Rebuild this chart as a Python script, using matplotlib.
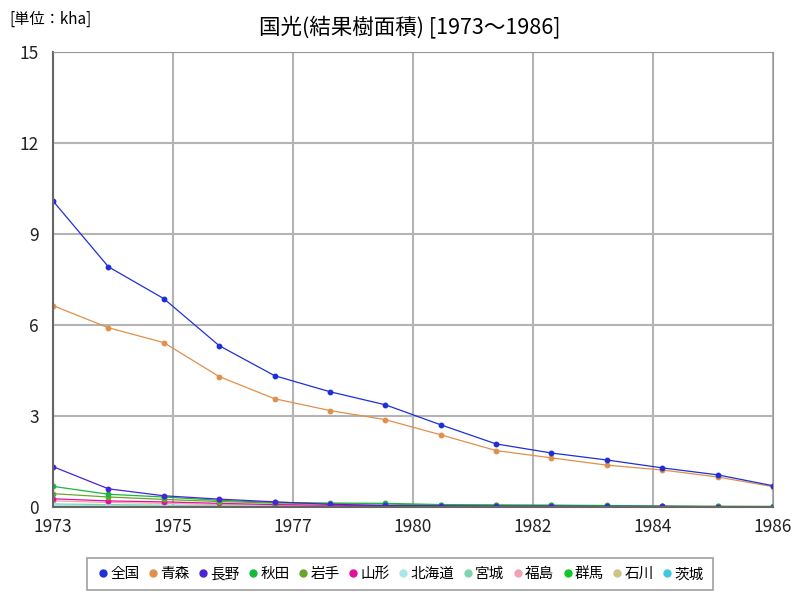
import matplotlib

matplotlib.use("Agg")
import matplotlib.pyplot as plt
import numpy as np
from matplotlib.lines import Line2D

plt.rcParams["font.family"] = ["Noto Sans CJK JP", "DejaVu Sans"]

years = list(range(1973, 1987))

# 結果樹面積 (kha)
zenkoku = [10.09, 7.92, 6.87, 5.32, 4.33, 3.80, 3.37, 2.71, 2.08, 1.78, 1.55, 1.29, 1.06, 0.70]
aomori = [6.64, 5.91, 5.42, 4.30, 3.57, 3.18, 2.88, 2.38, 1.86, 1.62, 1.38, 1.22, 0.99, 0.67]
nagano = [1.33, 0.60, 0.37, 0.26, 0.17, 0.09, 0.05, 0.04, 0.03, 0.03, 0.02, 0.02, 0.01, 0.01]
akita = [0.68, 0.42, 0.33, 0.22, 0.15, 0.13, 0.12, 0.08, 0.07, 0.06, 0.05, 0.03, 0.02, 0.02]
iwate = [0.44, 0.33, 0.25, 0.18, 0.13, 0.11, 0.10, 0.06, 0.05, 0.05, 0.04, 0.02, 0.02, 0.01]
yamagata = [0.27, 0.20, 0.17, 0.12, 0.08, 0.06, 0.04, 0.03, 0.02, 0.02, 0.01, 0.01, 0.01, 0.01]
hokkaido = [0.05, 0.04, 0.03, 0.02, 0.02, 0.01, 0.01, 0.01, 0.01, 0.01, 0.01, 0.00, 0.00, 0.00]
miyagi = [0.10, 0.08, 0.06, 0.04, 0.03, 0.02, 0.02, 0.01, 0.01, 0.01, 0.01, 0.01, 0.00, 0.00]
fukushima = [0.20, 0.15, 0.12, 0.08, 0.06, 0.04, 0.03, 0.02, 0.02, 0.01, 0.01, 0.01, 0.01, 0.00]
gunma = [0.05, 0.04, 0.03, 0.02, 0.02, 0.01, 0.01, 0.01, 0.01, 0.00, 0.00, 0.00, 0.00, 0.00]
ishikawa = [0.02, 0.02, 0.01, 0.01, 0.01, 0.01, 0.00, 0.00, 0.00, 0.00, 0.00, 0.00, 0.00, 0.00]
ibaraki = [0.01, 0.01, 0.01, 0.01, 0.00, 0.00, 0.00, 0.00, 0.00, 0.00, 0.00, 0.00, 0.00, 0.00]

names = ["全国", "青森", "長野", "秋田", "岩手", "山形", "北海道", "宮城", "福島", "群馬", "石川", "茨城"]
series = [zenkoku, aomori, nagano, akita, iwate, yamagata, hokkaido, miyagi, fukushima, gunma, ishikawa, ibaraki]
colors = ["#1f2fd6", "#e0904a", "#4a22d8", "#18b83a", "#6aa52a", "#e0109a",
          "#a8e8e8", "#80d2b0", "#f2a2b2", "#10c828", "#cbc585", "#40c8e0"]

fig = plt.figure(figsize=(8, 6), dpi=100)
ax = fig.add_axes([0.06625, 0.155, 0.9, 0.7583])

# draw small series first, totals on top
for name, vals, c in reversed(list(zip(names, series, colors))):
    ax.plot(years, vals, color=c, lw=0.9, marker="o", ms=3.2, label=name)

ax.set_xlim(1973, 1986)
ax.set_ylim(0, 15)
xt = np.linspace(1973, 1986, 7)
ax.set_xticks(xt)
ax.set_xticklabels([str(int(round(v))) for v in xt])
ax.set_yticks([0, 3, 6, 9, 12, 15])
ax.tick_params(length=0, labelsize=12.5, colors="#222222")
ax.tick_params(axis="x", pad=8)
ax.tick_params(axis="y", pad=10)
ax.grid(True, color="#b4b4b4", lw=1.5)
ax.set_axisbelow(True)
for side in ["top", "right"]:
    ax.spines[side].set_color("#999999")
for side in ["left", "bottom"]:
    ax.spines[side].set_color("#666666")
    ax.spines[side].set_linewidth(1.5)

fig.text(0.5125, 0.955, "国光(結果樹面積) [1973～1986]", ha="center", va="center", fontsize=15.5)
fig.text(0.012, 0.968, "[単位：kha]", ha="left", va="center", fontsize=11)

handles = [Line2D([], [], ls="none", marker="o", ms=5, color=c) for c in colors]
leg = fig.legend(handles, names, loc="center", bbox_to_anchor=(0.5, 0.043), ncol=12,
                 fontsize=10.5, handletextpad=0.0, columnspacing=0.42, handlelength=1.0,
                 fancybox=False, edgecolor="#888888", borderpad=0.6)
leg.get_frame().set_linewidth(1.2)

fig.savefig("out.png", dpi=100)
